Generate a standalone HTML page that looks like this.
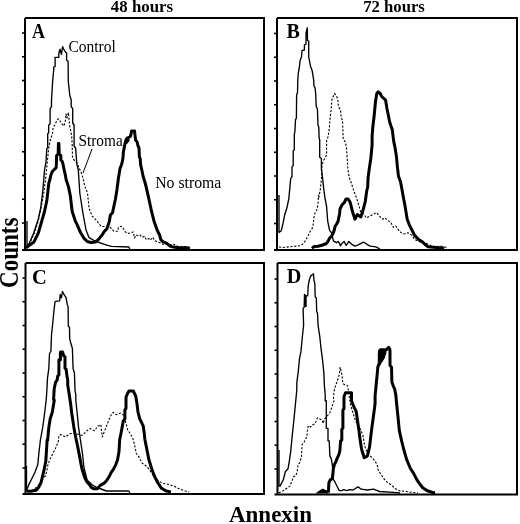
<!DOCTYPE html>
<html><head><meta charset="utf-8"><style>
html,body{margin:0;padding:0;background:#fff;width:520px;height:524px;overflow:hidden}
svg{display:block;filter:grayscale(1)}
.b{font-family:"Liberation Serif",serif;font-weight:bold;fill:#000}
.thin{fill:none;stroke-linejoin:round;stroke:#000;stroke-width:1.35}
.dot{fill:none;stroke-linejoin:round;stroke:#000;stroke-width:1.1;stroke-dasharray:2.2 1.6}
.thick{fill:none;stroke-linejoin:round;stroke:#000;stroke-width:3}
.r{font-family:"Liberation Serif",serif;fill:#000}
</style></head><body>
<svg width="520" height="524" viewBox="0 0 520 524">
<rect width="520" height="524" fill="#fff"/>
<path d="M25,18H264V250H22M25,250V18" fill="none" stroke="#000" stroke-width="2"/><path d="M22,33.0H25" stroke="#000" stroke-width="1.6"/><path d="M22,56.75H25" stroke="#000" stroke-width="1.6"/><path d="M22,80.5H25" stroke="#000" stroke-width="1.6"/><path d="M22,104.25H25" stroke="#000" stroke-width="1.6"/><path d="M22,128.0H25" stroke="#000" stroke-width="1.6"/><path d="M22,151.75H25" stroke="#000" stroke-width="1.6"/><path d="M22,175.5H25" stroke="#000" stroke-width="1.6"/><path d="M22,199.25H25" stroke="#000" stroke-width="1.6"/><path d="M22,223.0H25" stroke="#000" stroke-width="1.6"/><path d="M277,18H517V250H274M277,250V18" fill="none" stroke="#000" stroke-width="2"/><path d="M274,33.5H277" stroke="#000" stroke-width="1.6"/><path d="M274,57.25H277" stroke="#000" stroke-width="1.6"/><path d="M274,81.0H277" stroke="#000" stroke-width="1.6"/><path d="M274,104.75H277" stroke="#000" stroke-width="1.6"/><path d="M274,128.5H277" stroke="#000" stroke-width="1.6"/><path d="M274,152.25H277" stroke="#000" stroke-width="1.6"/><path d="M274,176.0H277" stroke="#000" stroke-width="1.6"/><path d="M274,199.75H277" stroke="#000" stroke-width="1.6"/><path d="M274,223.5H277" stroke="#000" stroke-width="1.6"/><path d="M25.5,263H264V494H22.5M25.5,494V263" fill="none" stroke="#000" stroke-width="2"/><path d="M22.5,278.0H25.5" stroke="#000" stroke-width="1.6"/><path d="M22.5,301.75H25.5" stroke="#000" stroke-width="1.6"/><path d="M22.5,325.5H25.5" stroke="#000" stroke-width="1.6"/><path d="M22.5,349.25H25.5" stroke="#000" stroke-width="1.6"/><path d="M22.5,373.0H25.5" stroke="#000" stroke-width="1.6"/><path d="M22.5,396.75H25.5" stroke="#000" stroke-width="1.6"/><path d="M22.5,420.5H25.5" stroke="#000" stroke-width="1.6"/><path d="M22.5,444.25H25.5" stroke="#000" stroke-width="1.6"/><path d="M22.5,468.0H25.5" stroke="#000" stroke-width="1.6"/><path d="M277.5,263H517V494.5H274.5M277.5,494.5V263" fill="none" stroke="#000" stroke-width="2"/><path d="M274.5,279.0H277.5" stroke="#000" stroke-width="1.6"/><path d="M274.5,302.75H277.5" stroke="#000" stroke-width="1.6"/><path d="M274.5,326.5H277.5" stroke="#000" stroke-width="1.6"/><path d="M274.5,350.25H277.5" stroke="#000" stroke-width="1.6"/><path d="M274.5,374.0H277.5" stroke="#000" stroke-width="1.6"/><path d="M274.5,397.75H277.5" stroke="#000" stroke-width="1.6"/><path d="M274.5,421.5H277.5" stroke="#000" stroke-width="1.6"/><path d="M274.5,445.25H277.5" stroke="#000" stroke-width="1.6"/><path d="M274.5,469.0H277.5" stroke="#000" stroke-width="1.6"/>

<text transform="translate(142,12.3) scale(1.01,1)" class="b" font-size="16.7" text-anchor="middle">48 hours</text>
<text transform="translate(394,12.3)" class="b" font-size="16.7" text-anchor="middle">72 hours</text>
<text transform="translate(32,37.7) scale(0.9,1)" class="b" font-size="20">A</text>
<text x="286.5" y="37.7" class="b" font-size="20">B</text>
<text x="32" y="283.5" class="b" font-size="20.5">C</text>
<text x="286.7" y="283.3" class="b" font-size="20.2">D</text>
<text x="270.5" y="521.7" class="b" font-size="23" text-anchor="middle">Annexin</text>
<text transform="translate(17.6,252.8) rotate(-90) scale(1,1.17)" class="b" font-size="23" text-anchor="middle">Counts</text>
<text transform="translate(68.5,51.5) scale(1,1.1)" class="r" font-size="15.5">Control</text>
<text transform="translate(78.5,145.5) scale(1,1.1)" class="r" font-size="15.3">Stroma</text>
<text transform="translate(155.2,187.6) scale(1.01,1.03)" class="r" font-size="15.6">No stroma</text>
<path d="M92,149L83,173" stroke="#000" stroke-width="1"/>

<path class="thin" d="M27.0,221.0 L27.0,245.0 L27.5,246.0 L29.0,243.7 L33.7,233.0 L38.3,219.0 L40.6,208.5 L42.9,190.0 L44.5,170.0 L46.0,162.0 L46.8,148.5 L47.7,148.0 L47.7,133.7 L48.7,132.7 L48.7,125.0 L50.1,124.0 L50.1,108.7 L51.5,106.7 L51.5,100.0 L52.7,80.4 L53.7,70.0 L53.7,67.1 L55.1,66.5 L55.1,57.3 L58.8,57.3 L58.8,53.3 L60.0,49.2 L61.4,54.4 L62.6,46.6 L63.5,48.7 L65.2,51.8 L66.6,53.0 L66.6,60.2 L68.1,61.3 L68.3,81.5 L69.8,95.4 L71.2,100.0 L71.2,106.7 L72.7,108.7 L72.7,123.0 L74.1,125.0 L74.1,146.2 L75.6,148.0 L76.8,163.8 L78.3,170.0 L79.8,193.0 L82.9,213.0 L86.0,230.0 L89.1,237.7 L95.0,241.0 L102.9,243.8 L107.7,245.4 L111.5,246.3 L128.8,247.0 L129.8,249.0"/>
<path class="dot" d="M27.0,248.0 L30.0,243.0 L34.0,234.0 L38.0,222.0 L41.0,208.0 L43.5,195.0 L45.5,180.0 L47.0,165.0 L48.5,150.0 L50.0,141.0 L52.5,133.7 L53.0,127.9 L55.4,124.0 L56.8,120.2 L58.8,118.8 L60.2,121.2 L62.1,124.0 L64.0,126.0 L65.5,120.0 L66.0,114.0 L67.0,118.0 L68.4,112.5 L69.5,125.0 L70.6,130.0 L71.7,136.5 L72.2,145.4 L72.5,157.0 L74.0,160.0 L77.0,163.0 L79.0,168.0 L81.0,172.0 L83.0,178.0 L84.5,185.4 L87.5,193.0 L89.1,208.5 L92.2,216.2 L96.8,220.8 L99.0,224.0 L101.4,226.5 L106.0,226.5 L109.0,226.5 L111.5,228.5 L113.8,231.2 L117.7,231.2 L118.5,227.3 L120.8,226.2 L123.0,228.0 L125.4,231.9 L127.7,233.5 L130.8,232.7 L133.1,231.9 L134.6,238.0 L136.2,235.0 L138.5,235.8 L140.0,235.0 L142.3,237.3 L144.6,236.2 L146.3,239.6 L148.7,238.5 L150.4,240.2 L152.7,237.3 L155.0,240.8 L157.3,241.9 L160.8,243.1 L163.1,244.2 L170.0,244.8 L173.5,244.2 L178.1,246.5 L186.1,246.5 L190.0,247.7"/>
<path class="thick" d="M26.0,248.0 L29.1,245.4 L33.7,242.3 L38.3,233.1 L41.4,222.3 L44.5,211.5 L46.8,200.8 L48.8,183.1 L50.0,179.2 L50.8,175.4 L52.3,171.5 L53.8,170.0 L56.2,167.7 L56.5,160.0 L56.6,155.6 L58.2,154.0 L58.4,143.5 L58.9,143.5 L59.2,154.0 L60.8,155.6 L60.8,160.0 L62.3,161.5 L63.1,164.6 L64.2,170.0 L65.4,175.4 L66.2,180.0 L67.3,183.1 L68.5,186.9 L69.6,192.3 L70.4,196.2 L70.8,200.0 L72.2,211.5 L75.2,220.8 L76.9,224.2 L80.4,232.3 L83.8,238.1 L87.3,241.5 L90.8,242.5 L95.4,242.1 L98.8,239.2 L102.3,234.6 L104.6,231.1 L106.9,228.8 L109.2,221.9 L110.4,215.0 L112.5,212.7 L115.4,199.2 L116.9,190.0 L118.5,177.7 L120.0,168.5 L121.5,164.7 L122.3,161.6 L123.0,157.8 L123.4,151.7 L124.2,147.9 L124.9,144.0 L126.0,140.0 L127.2,138.0 L130.3,136.5 L131.0,134.2 L131.6,131.0 L134.6,131.0 L134.8,133.4 L135.6,140.3 L137.1,141.8 L137.9,145.6 L139.0,147.9 L139.4,157.0 L140.2,158.6 L140.6,164.7 L141.5,168.5 L143.1,176.2 L145.4,183.8 L148.1,195.4 L151.0,208.8 L153.8,220.4 L157.3,230.4 L159.6,235.0 L160.8,239.6 L163.1,241.9 L166.5,243.1 L170.0,246.0 L173.5,247.1 L178.1,247.7 L186.1,247.7 L190.0,248.3"/>
<path class="thin" d="M279.0,195.0 L279.0,232.5 L281.2,230.8 L282.9,223.9 L284.6,215.3 L287.2,206.7 L288.9,198.1 L290.6,179.2 L291.5,177.0 L292.0,176.9 L292.0,167.1 L293.2,165.4 L293.2,151.0 L294.3,149.8 L294.3,134.2 L294.9,131.9 L295.5,119.8 L296.4,118.1 L296.6,95.0 L297.5,92.7 L297.8,80.0 L298.3,73.1 L299.5,66.2 L300.1,60.4 L301.5,56.9 L302.1,50.3 L304.4,50.0 L304.4,45.0 L306.0,44.0 L306.0,33.5 L307.3,27.8 L307.5,40.5 L308.7,41.0 L308.7,56.9 L310.5,66.2 L312.2,70.8 L313.3,77.7 L313.7,80.0 L313.9,85.8 L315.1,88.1 L315.7,93.8 L316.2,106.5 L317.4,108.8 L318.0,125.0 L318.8,127.3 L319.1,137.7 L319.7,140.0 L319.7,157.3 L321.4,158.5 L321.4,168.8 L322.6,178.1 L323.7,188.5 L324.9,197.7 L326.6,206.5 L327.7,221.2 L328.8,226.5 L329.6,230.4 L331.5,232.7 L332.3,235.8 L332.7,238.1 L333.5,241.2 L335.0,241.9 L336.5,242.7 L338.1,241.5 L339.6,243.5 L340.4,245.8 L341.9,243.5 L344.2,241.5 L346.2,245.5 L348.8,241.4 L351.5,244.1 L354.9,246.1 L358.3,244.8 L363.6,242.1 L367.7,244.8 L370.4,246.1 L375.8,246.8 L379.8,248.8"/>
<path class="dot" d="M279.0,247.0 L282.8,247.5 L288.5,246.9 L294.3,246.3 L300.1,245.8 L303.5,243.5 L305.8,240.0 L308.2,235.4 L310.5,230.8 L312.8,227.3 L313.9,218.1 L315.1,212.3 L316.8,210.0 L318.0,204.2 L318.5,195.0 L318.8,197.7 L320.3,189.6 L321.4,179.2 L322.0,164.8 L323.7,160.2 L326.6,155.0 L326.6,140.0 L327.8,137.7 L328.9,131.9 L329.5,126.2 L330.1,118.1 L331.2,108.8 L331.8,100.2 L333.1,96.8 L334.4,93.5 L336.4,95.5 L337.8,100.2 L338.5,106.9 L340.5,109.6 L341.2,117.7 L342.5,120.4 L343.2,139.2 L345.2,141.9 L346.5,147.3 L347.2,158.5 L347.9,169.2 L349.2,177.3 L351.2,182.7 L353.3,189.4 L355.3,194.8 L357.3,200.2 L359.3,206.9 L360.7,212.3 L363.6,213.8 L366.3,217.9 L369.0,216.5 L373.1,214.5 L376.4,212.5 L379.8,216.5 L382.5,219.2 L385.2,217.9 L387.9,220.6 L390.6,221.9 L393.3,227.3 L395.8,226.0 L398.5,230.0 L401.2,232.7 L403.8,234.0 L407.9,232.7 L411.9,235.4 L414.6,239.4 L418.6,241.4 L422.7,242.8 L426.7,243.5 L430.8,245.5 L434.8,246.8 L440.2,246.1 L444.2,246.8 L448.0,248.0"/>
<path class="thick" d="M312.0,248.3 L314.0,246.5 L318.0,246.3 L322.7,245.0 L326.5,243.5 L328.1,241.2 L329.6,238.1 L331.2,236.5 L332.7,234.2 L334.2,230.4 L335.0,226.5 L336.5,224.2 L338.1,221.2 L338.8,217.3 L339.6,214.0 L340.0,209.0 L342.0,205.0 L344.6,202.0 L346.0,199.0 L348.1,199.0 L349.5,201.0 L350.4,203.1 L352.7,212.3 L355.0,219.2 L357.3,214.6 L360.8,217.0 L363.1,210.0 L365.4,200.8 L366.7,191.0 L367.7,187.0 L368.1,177.3 L369.4,167.9 L370.8,158.5 L372.1,145.0 L372.1,136.5 L372.8,127.1 L374.1,116.3 L375.5,101.5 L376.8,93.5 L378.2,91.8 L380.2,93.5 L381.5,96.2 L383.5,98.2 L385.6,100.2 L386.9,108.3 L388.3,115.0 L389.6,121.7 L390.9,125.8 L392.3,129.8 L393.6,140.6 L395.1,148.1 L396.4,156.2 L397.4,166.9 L398.5,176.3 L400.5,181.7 L401.8,188.5 L403.2,196.5 L404.5,203.1 L405.9,211.2 L407.2,219.2 L409.2,224.6 L411.9,230.0 L414.6,235.4 L418.6,239.4 L422.7,242.1 L425.4,244.8 L428.1,246.8 L436.1,247.5 L444.2,248.2"/>
<path class="thin" d="M26.5,466.0 L26.5,490.0 L27.1,489.1 L28.7,484.9 L31.9,478.5 L35.1,472.0 L37.8,464.6 L38.8,453.9 L40.4,440.0 L42.8,426.9 L44.9,410.8 L46.2,400.0 L46.8,391.5 L47.5,378.1 L48.8,368.6 L49.5,353.8 L50.9,351.2 L51.5,335.0 L52.7,323.8 L53.9,311.2 L55.0,301.9 L55.6,301.3 L59.7,300.8 L60.2,294.4 L61.4,297.9 L62.5,291.5 L64.3,295.0 L66.0,297.3 L67.2,304.2 L68.1,306.5 L68.3,326.2 L69.5,327.3 L69.7,338.8 L70.4,341.7 L72.4,348.5 L73.1,368.6 L74.4,372.7 L75.1,391.5 L75.8,394.2 L75.8,400.0 L77.2,413.5 L78.5,426.9 L80.5,440.4 L82.5,453.8 L84.0,467.7 L87.1,480.0 L91.7,484.6 L97.0,487.5 L106.5,491.0 L128.7,491.0 L130.0,493.0"/>
<path class="dot" d="M28.0,492.0 L33.0,490.0 L38.0,486.0 L40.6,482.7 L42.9,478.1 L45.7,475.8 L46.9,470.1 L48.0,464.4 L49.7,459.8 L53.2,452.9 L56.0,447.2 L58.3,441.5 L58.9,435.7 L60.8,434.6 L65.4,436.9 L70.0,433.8 L73.1,433.1 L79.2,434.6 L82.3,435.4 L86.9,430.8 L90.0,428.5 L94.6,430.8 L97.7,426.2 L100.8,424.6 L102.3,436.9 L104.6,430.8 L107.7,423.1 L110.0,416.9 L113.1,412.3 L116.2,414.6 L120.8,413.1 L123.8,415.4 L125.0,420.4 L126.3,424.4 L127.7,429.8 L130.4,433.8 L133.1,439.2 L135.1,447.3 L136.3,453.5 L139.2,457.3 L142.1,463.1 L145.0,465.0 L148.8,468.8 L152.7,474.6 L156.5,479.4 L162.3,483.3 L168.1,484.2 L173.8,486.2 L179.6,489.0 L185.4,491.0 L189.2,492.0"/>
<path class="thick" d="M26.5,491.0 L30.8,491.3 L36.2,490.2 L38.8,487.0 L41.0,482.7 L43.1,474.2 L44.7,466.7 L45.8,461.4 L46.8,445.3 L47.1,440.0 L47.6,440.4 L48.9,426.9 L50.2,418.8 L52.3,412.1 L54.3,400.0 L53.6,399.6 L54.2,388.8 L55.6,382.1 L57.2,380.0 L57.7,375.9 L58.9,375.1 L58.9,359.8 L60.4,359.8 L60.4,352.0 L62.5,352.0 L63.8,356.0 L65.0,356.8 L65.0,368.2 L66.1,369.0 L66.9,375.9 L67.7,379.7 L67.7,384.8 L69.0,392.9 L70.4,402.3 L71.8,413.5 L73.8,426.9 L75.8,437.7 L77.8,447.1 L79.4,455.4 L81.7,467.7 L84.0,475.4 L84.6,477.3 L86.9,481.9 L89.2,484.2 L91.5,487.7 L93.8,488.8 L97.3,488.8 L100.2,485.4 L104.2,483.1 L106.5,480.8 L108.8,477.3 L111.1,472.7 L113.5,469.2 L115.8,464.6 L117.5,460.0 L119.0,451.5 L119.7,439.5 L120.9,433.8 L122.0,428.1 L123.2,421.2 L124.9,418.9 L124.9,409.7 L126.0,408.6 L126.0,397.2 L127.5,393.5 L129.0,391.0 L133.3,391.0 L135.7,396.0 L136.9,402.9 L138.0,412.0 L139.7,418.9 L141.5,422.3 L143.2,425.8 L144.3,433.8 L144.9,439.5 L146.9,449.6 L148.8,459.2 L151.7,468.8 L154.6,476.5 L157.5,482.3 L161.3,488.1 L166.2,491.0 L171.0,491.9"/>
<path class="thin" d="M279.0,450.0 L279.0,486.0 L280.0,486.1 L283.4,479.5 L285.4,471.4 L288.0,468.8 L289.4,460.7 L290.7,451.4 L292.0,438.0 L292.8,430.4 L294.2,416.9 L295.5,403.5 L296.8,390.0 L296.8,382.9 L298.2,372.1 L299.5,358.6 L300.9,351.9 L302.2,338.5 L303.6,325.0 L303.1,308.4 L304.2,307.2 L304.5,294.5 L306.0,295.7 L307.7,295.7 L308.3,285.3 L309.4,279.5 L310.6,276.1 L313.5,273.8 L314.0,280.7 L314.8,283.0 L315.2,296.8 L316.3,298.0 L316.7,311.8 L317.5,313.0 L318.1,325.7 L319.7,335.8 L321.1,349.2 L322.4,358.6 L323.8,372.1 L324.4,385.6 L325.2,395.0 L325.2,400.7 L326.3,400.7 L326.3,428.2 L328.0,428.5 L328.0,440.8 L329.2,441.0 L329.9,455.9 L331.3,458.9 L332.3,464.8 L333.3,473.8 L332.8,478.7 L334.8,481.7 L337.3,486.7 L339.3,490.6 L341.8,490.6 L343.7,489.6 L346.7,490.6 L349.7,489.6 L352.9,490.0 L358.1,486.9 L361.2,489.2 L367.3,490.0 L373.5,489.2 L379.6,491.5 L393.5,492.3 L400.0,493.0"/>
<path class="dot" d="M278.7,492.8 L282.0,491.5 L286.0,488.8 L290.0,486.1 L292.0,480.8 L293.4,476.8 L296.0,475.5 L297.4,470.1 L298.1,464.8 L300.1,462.1 L301.4,456.7 L302.1,444.7 L304.1,442.0 L306.1,438.0 L306.9,437.1 L307.2,431.5 L308.3,425.8 L310.6,427.0 L312.9,424.7 L315.2,423.5 L317.5,417.8 L319.8,419.0 L322.1,420.1 L323.2,423.5 L324.4,419.0 L326.7,416.7 L329.8,412.9 L331.8,407.5 L333.9,400.8 L333.4,399.6 L334.0,391.5 L335.4,386.1 L337.4,380.8 L339.4,374.0 L340.1,367.3 L342.1,375.4 L342.8,383.5 L344.8,384.8 L347.5,385.5 L348.2,388.8 L350.2,403.5 L352.9,412.9 L355.6,421.0 L361.0,430.4 L363.0,435.8 L364.3,443.8 L365.7,449.2 L369.0,454.6 L371.9,457.7 L375.0,460.8 L377.3,465.4 L378.1,470.0 L381.2,474.6 L384.2,479.2 L387.3,482.3 L391.9,485.4 L395.0,488.5 L399.6,490.8 L405.8,491.5 L411.9,492.3 L418.0,493.0"/>
<path class="thick" d="M328.4,492.6 L328.9,482.7 L330.4,479.7 L332.3,478.7 L332.8,474.8 L333.3,468.8 L334.3,464.8 L335.8,461.9 L337.3,457.9 L338.8,454.9 L339.8,451.0 L340.3,445.0 L340.6,441.0 L341.8,440.0 L341.8,429.3 L342.9,428.2 L342.9,409.9 L344.0,408.7 L344.0,396.7 L345.5,392.7 L351.5,392.7 L351.5,400.8 L353.6,406.2 L356.2,411.5 L357.6,421.0 L358.9,430.4 L360.3,441.1 L361.6,449.2 L364.2,457.7 L367.3,456.2 L369.6,446.9 L371.0,434.4 L372.4,423.6 L373.7,414.2 L375.1,403.5 L375.1,395.6 L375.8,388.8 L376.4,382.1 L377.1,375.4 L377.8,367.3 L378.5,365.0 L379.2,364.5 L379.4,351.0 L380.5,349.7 L386.4,349.7 L388.7,347.3 L389.7,349.0 L390.0,351.0 L390.0,365.5 L391.5,367.0 L391.9,382.1 L393.3,386.1 L394.6,388.8 L395.9,395.6 L396.6,403.5 L398.0,416.9 L399.3,430.4 L401.2,439.2 L403.5,448.5 L406.5,459.2 L410.4,468.5 L413.5,473.1 L416.5,479.2 L419.6,483.8 L422.7,487.7 L427.3,490.8 L431.9,492.3 L435.0,493.0"/>
<path d="M125.7,138L129.5,138L129.5,141L127,144L125.7,144Z" fill="#000"/>
<path d="M305.6,296V307" stroke="#000" stroke-width="2.2"/>
<path d="M315.5,493.5L318,491.5L321,489.5L323,488.5L325,489.8L327.5,490.5L328.6,493.5Z" fill="#000"/>
<path d="M379,349.5 L386.4,349.5 L386.4,353 L384.5,358.5 L382,362.5 L380.5,364.5 L379,364.5Z" fill="#000"/>
</svg>
</body></html>
